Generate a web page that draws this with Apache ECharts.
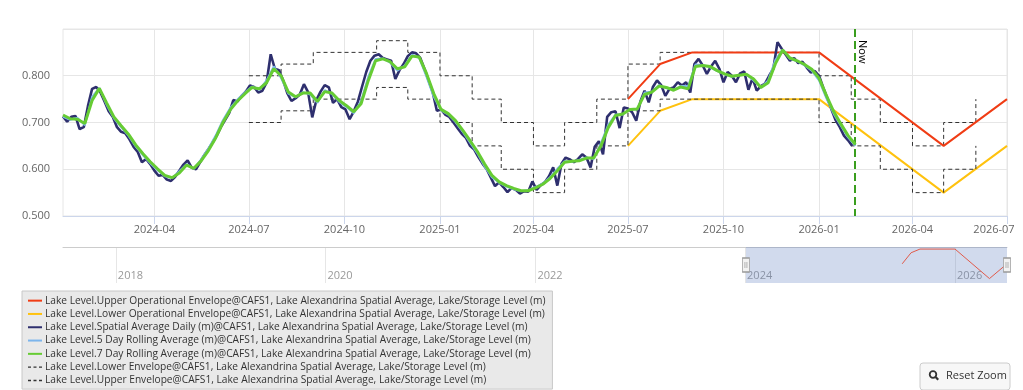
<!DOCTYPE html>
<html><head><meta charset="utf-8">
<script src="https://cdn.jsdelivr.net/npm/echarts@6/dist/echarts.min.js"></script>
<style>html,body{margin:0;padding:0;background:#fff;}#chart{width:1023px;height:390px;}</style>
</head><body><div id="chart"></div>
<script>
// ---------------- DATA ----------------
const viewStart = '2024-01-04';
const viewEnd = '2026-07-01';
const navStart = '2017-07-01';
const navEnd = '2026-07-01';
const nowDate = '2026-02-04';

const quarterTicks = ['2024-04-01','2024-07-01','2024-10-01','2025-01-01','2025-04-01','2025-07-01','2025-10-01','2026-01-01','2026-04-01','2026-07-01'];
const quarterLabels = ['2024-04','2024-07','2024-10','2025-01','2025-04','2025-07','2025-10','2026-01','2026-04','2026-07'];
const navTicks = ['2018-01-01','2020-01-01','2022-01-01','2024-01-01','2026-01-01'];
const navLabels = ['2018','2020','2022','2024','2026'];
const yTicks = [0.5, 0.6, 0.7, 0.8, 0.9];

const seriesNames = [
  'Lake Level.Upper Operational Envelope@CAFS1, Lake Alexandrina Spatial Average, Lake/Storage Level (m)',
  'Lake Level.Lower Operational Envelope@CAFS1, Lake Alexandrina Spatial Average, Lake/Storage Level (m)',
  'Lake Level.Spatial Average Daily (m)@CAFS1, Lake Alexandrina Spatial Average, Lake/Storage Level (m)',
  'Lake Level.5 Day Rolling Average (m)@CAFS1, Lake Alexandrina Spatial Average, Lake/Storage Level (m)',
  'Lake Level.7 Day Rolling Average (m)@CAFS1, Lake Alexandrina Spatial Average, Lake/Storage Level (m)',
  'Lake Level.Lower Envelope@CAFS1, Lake Alexandrina Spatial Average, Lake/Storage Level (m)',
  'Lake Level.Upper Envelope@CAFS1, Lake Alexandrina Spatial Average, Lake/Storage Level (m)'
];

const operationalDates = ['2025-07-01','2025-08-01','2025-09-01','2026-01-01','2026-05-01','2026-07-01'];
const upperOperational = [0.75, 0.825, 0.85, 0.85, 0.65, 0.75];
const lowerOperational = [0.65, 0.725, 0.75, 0.75, 0.55, 0.65];

const envelopeMonths = ['2024-07-01','2024-08-01','2024-09-01','2024-10-01','2024-11-01','2024-12-01',
  '2025-01-01','2025-02-01','2025-03-01','2025-04-01','2025-05-01','2025-06-01',
  '2025-07-01','2025-08-01','2025-09-01','2025-10-01','2025-11-01','2025-12-01',
  '2026-01-01','2026-02-01','2026-03-01','2026-04-01','2026-05-01','2026-06-01'];
const upperEnvelope = [0.80,0.825,0.85,0.85,0.875,0.85, 0.80,0.75,0.70,0.65,0.70,0.75, 0.825,0.85,0.85,0.85,0.85,0.85, 0.80,0.75,0.70,0.65,0.70,0.75];
const lowerEnvelope = [0.70,0.725,0.75,0.75,0.775,0.75, 0.70,0.65,0.60,0.55,0.60,0.65, 0.725,0.75,0.75,0.75,0.75,0.75, 0.70,0.65,0.60,0.55,0.60,0.65];

// daily readings, one every 4 days from dailyStart
const dailyStart = '2024-01-04';
const dailyStepDays = 4;
const dailyLevel = [
  0.713,0.702,0.712,0.714,0.686,0.690,0.735,0.772,0.776,0.765,
  0.745,0.724,0.712,0.690,0.680,0.677,0.664,0.648,0.637,0.615,
  0.622,0.611,0.597,0.586,0.588,0.578,0.575,0.584,0.597,0.610,
  0.619,0.603,0.600,0.615,0.630,0.643,0.657,0.672,0.690,0.705,
  0.720,0.748,0.745,0.757,0.766,0.779,0.776,0.764,0.768,0.785,
  0.846,0.815,0.812,0.790,0.763,0.746,0.752,0.760,0.782,0.765,
  0.711,0.748,0.766,0.780,0.775,0.742,0.750,0.733,0.728,0.707,
  0.724,0.745,0.777,0.808,0.832,0.843,0.846,0.838,0.835,0.832,
  0.793,0.812,0.825,0.842,0.850,0.848,0.838,0.815,0.790,0.765,
  0.725,0.728,0.717,0.712,0.700,0.688,0.676,0.667,0.650,0.642,
  0.626,0.612,0.600,0.582,0.564,0.572,0.562,0.551,0.560,0.556,
  0.548,0.553,0.552,0.574,0.556,0.566,0.572,0.585,0.604,0.565,
  0.612,0.625,0.621,0.615,0.622,0.632,0.625,0.604,0.648,0.660,
  0.632,0.712,0.722,0.724,0.688,0.732,0.730,0.722,0.704,0.745,
  0.768,0.743,0.776,0.790,0.780,0.757,0.772,0.775,0.786,0.779,
  0.786,0.764,0.825,0.836,0.822,0.804,0.820,0.832,0.815,0.786,
  0.808,0.800,0.786,0.805,0.809,0.770,0.795,0.768,0.778,0.783,
  0.800,0.815,0.872,0.858,0.845,0.832,0.838,0.827,0.830,0.818,
  0.807,0.810,0.800,0.775,0.752,0.728,0.705,0.690,0.672,0.662,
  0.650
];

// rolling averages, one reading every 7 days from rollingStart
const rollingStart = '2024-01-04';
const rollingStepDays = 7;
const rolling5Day = [
  0.712,0.706,0.710,0.694,0.755,0.774,0.738,0.709,0.690,0.672,
  0.649,0.630,0.613,0.598,0.585,0.581,0.596,0.611,0.601,0.621,
  0.644,0.672,0.705,0.731,0.749,0.764,0.777,0.770,0.790,0.820,
  0.795,0.762,0.754,0.765,0.760,0.742,0.769,0.761,0.744,0.733,
  0.720,0.746,0.798,0.836,0.837,0.828,0.811,0.822,0.845,0.838,
  0.798,0.755,0.726,0.717,0.701,0.680,0.657,0.634,0.606,0.583,
  0.571,0.563,0.557,0.553,0.555,0.562,0.570,0.583,0.601,0.617,
  0.616,0.620,0.625,0.622,0.656,0.695,0.717,0.717,0.729,0.728,
  0.764,0.766,0.780,0.773,0.770,0.778,0.778,0.824,0.823,0.818,
  0.810,0.803,0.798,0.801,0.802,0.790,0.775,0.790,0.834,0.856,
  0.836,0.831,0.822,0.811,0.790,0.752,0.719,0.693,0.668,0.650
];
const rolling7Day = [
  0.716,0.708,0.707,0.698,0.747,0.773,0.742,0.712,0.693,0.675,
  0.652,0.633,0.616,0.601,0.587,0.582,0.592,0.609,0.602,0.618,
  0.640,0.667,0.700,0.727,0.746,0.761,0.775,0.772,0.785,0.815,
  0.800,0.765,0.755,0.763,0.763,0.745,0.766,0.763,0.747,0.736,
  0.723,0.740,0.790,0.832,0.836,0.830,0.815,0.819,0.842,0.840,
  0.805,0.762,0.728,0.719,0.704,0.683,0.661,0.638,0.611,0.587,
  0.573,0.565,0.559,0.554,0.554,0.560,0.568,0.580,0.597,0.615,
  0.617,0.618,0.624,0.624,0.650,0.689,0.715,0.718,0.728,0.729,
  0.760,0.765,0.778,0.775,0.769,0.776,0.772,0.820,0.822,0.820,
  0.811,0.804,0.799,0.801,0.803,0.793,0.775,0.785,0.826,0.855,
  0.838,0.832,0.824,0.814,0.795,0.758,0.724,0.697,0.672,0.653
];

// ---------------- BUILD ----------------
const FONT = '"Open Sans", "Liberation Sans", sans-serif';
function ts(s){ const p = s.split('-').map(Number); return new Date(p[0], p[1]-1, p[2]).getTime(); }
function stepSeries(start, step, vals){ const p = start.split('-').map(Number); return vals.map((v,i)=>[new Date(p[0], p[1]-1, p[2] + i*step).getTime(), v]); }
function pair(dates, vals){ return dates.map((d,i)=>[ts(d), vals[i]]); }

const quarterTs = quarterTicks.map(ts);
const quarterMap = {}; quarterTs.forEach((t,i)=>quarterMap[t]=quarterLabels[i]);
const lastQuarterTs = quarterTs[quarterTs.length-1];
const navTs = navTicks.map(ts);
const navMap = {}; navTs.forEach((t,i)=>navMap[t]=navLabels[i]);
const yMin = yTicks[0], yMax = yTicks[yTicks.length-1];
const nowTs = ts(nowDate);

const upperOpData = pair(operationalDates, upperOperational);
const chart = echarts.init(document.getElementById('chart'), null, {renderer:'canvas'});

const base = {type:'line', symbol:'none', showSymbol:false, animation:false, xAxisIndex:0, yAxisIndex:0};
const SOLID_ICON = 'path://M0,0H14V2H0Z';
const DASH_ICON = 'path://M0,0H3V1.4H0Z M5.5,0H8.5V1.4H5.5Z M11,0H14V1.4H11Z';
const legendIcons = [SOLID_ICON, SOLID_ICON, SOLID_ICON, SOLID_ICON, SOLID_ICON, DASH_ICON, DASH_ICON];

chart.setOption({
  animation:false,
  textStyle:{fontFamily:FONT},
  grid:[
    {left:63, top:29, width:944, height:187, show:true, borderColor:'#e6e6e6', borderWidth:1, containLabel:false, outerBoundsMode:'none'},
    {left:63, top:247, width:944, height:36, containLabel:false, outerBoundsMode:'none'}
  ],
  xAxis:[
    {type:'value', gridIndex:0, min:ts(viewStart), max:ts(viewEnd), scale:true,
     axisLine:{lineStyle:{color:'#ccd6eb'}},
     axisTick:{show:true, length:8, lineStyle:{color:'#ccd6eb'}, customValues:quarterTs},
     axisLabel:{customValues:quarterTs,
       formatter:v=> v === lastQuarterTs ? '{edge|' + quarterMap[v] + '}' : (quarterMap[v]||''),
       rich:{edge:{color:'#666', fontSize:11, fontFamily:FONT, padding:[0,26,0,0]}},
       color:'#666', fontSize:11, fontFamily:FONT, margin:8, hideOverlap:false},
     splitLine:{show:true, lineStyle:{color:'#e6e6e6'}}},
    {type:'value', gridIndex:1, min:ts(navStart), max:ts(navEnd), position:'top', scale:true,
     axisLine:{show:true, lineStyle:{color:'#cccccc'}},
     axisTick:{show:false, customValues:navTs},
     axisLabel:{inside:true, customValues:navTs, formatter:v=>navMap[v]||'', color:'#999', fontSize:11, fontFamily:FONT, align:'left', margin:23, padding:[0,0,0,2], hideOverlap:false},
     splitLine:{show:true, lineStyle:{color:'#e6e6e6'}}}
  ],
  yAxis:[
    {type:'value', gridIndex:0, min:yMin, max:yMax, interval:0.1,
     axisLine:{show:false}, axisTick:{show:false},
     axisLabel:{formatter:v=>v.toFixed(3), color:'#666', fontSize:11, fontFamily:FONT, margin:13, showMaxLabel:false},
     splitLine:{lineStyle:{color:'#e6e6e6'}}},
    {type:'value', gridIndex:1, min:0.62, max:0.864, show:false}
  ],
  legend:{
    orient:'vertical', left:22, top:291, height:98,
    data:seriesNames.map((n,i)=>({name:n, icon:legendIcons[i]})),
    backgroundColor:'#e9e9e9', borderColor:'#c8c8c8', borderWidth:1, borderRadius:0,
    padding:[3,7,2,6], itemGap:0, itemWidth:14, itemHeight:2,
    textStyle:{fontSize:10.2, color:'#333', fontFamily:FONT, lineHeight:13.3, padding:[0,0,0,-2]},
    selectedMode:false
  },
  series:[
    Object.assign({}, base, {name:seriesNames[5], data:pair(envelopeMonths, lowerEnvelope), step:'end', color:'#333', lineStyle:{width:1, type:[4,3], color:'#333'}, z:3}),
    Object.assign({}, base, {name:seriesNames[6], data:pair(envelopeMonths, upperEnvelope), step:'end', color:'#333', lineStyle:{width:1, type:[4,3], color:'#333'}, z:3}),
    Object.assign({}, base, {name:seriesNames[0], data:upperOpData, color:'#f03c14', lineStyle:{width:2}, z:4}),
    Object.assign({}, base, {name:seriesNames[1], data:pair(operationalDates, lowerOperational), color:'#ffc20e', lineStyle:{width:2}, z:2}),
    Object.assign({}, base, {name:seriesNames[2], data:stepSeries(dailyStart, dailyStepDays, dailyLevel), color:'#2e2f6e', lineStyle:{width:2.6}, z:5,
      markLine:{silent:true, symbol:'none', animation:false,
        lineStyle:{color:'#3a9e1e', type:[8,4], width:2},
        label:{show:true, formatter:'Now', position:'insideStartTop', color:'#000', fontSize:11, fontFamily:FONT, distance:[11,2]},
        data:[[{coord:[nowTs, yMax]}, {coord:[nowTs, yMin]}]]}}),
    Object.assign({}, base, {name:seriesNames[3], data:stepSeries(rollingStart, rollingStepDays, rolling5Day), color:'#7cb5ec', lineStyle:{width:2}, z:6}),
    Object.assign({}, base, {name:seriesNames[4], data:stepSeries(rollingStart, rollingStepDays, rolling7Day), color:'#66cc33', lineStyle:{width:3}, z:7}),
    {type:'line', symbol:'none', showSymbol:false, animation:false, xAxisIndex:1, yAxisIndex:1, data:upperOpData, color:'#e05a4a', lineStyle:{width:1}, z:3, silent:true,
      markArea:{silent:true, itemStyle:{color:'rgba(102,133,194,0.3)'}, data:[[{xAxis:ts(viewStart)}, {xAxis:ts(viewEnd)}]]},
      markPoint:{silent:true, symbol:'path://M0,0H7V14H0Z M2.5,4V10 M4.5,4V10', symbolSize:[7,14], label:{show:false},
        itemStyle:{color:'#f2f2f2', borderColor:'#999', borderWidth:1},
        data:[{coord:[ts(viewStart), 0.742]}, {coord:[ts(viewEnd), 0.742]}]}}
  ],
  graphic:[{type:'group', x:920, y:363, children:[
    {type:'rect', shape:{x:0, y:0, width:90, height:27, r:3}, style:{fill:'#f7f7f7', stroke:'#cccccc', lineWidth:1}},
    {type:'circle', shape:{cx:13, cy:11.5, r:3.3}, style:{fill:'none', stroke:'#333', lineWidth:1.8}},
    {type:'line', shape:{x1:15.6, y1:14.1, x2:18.2, y2:16.8}, style:{stroke:'#333', lineWidth:2.2}},
    {type:'text', x:26, y:13, style:{text:'Reset Zoom', verticalAlign:'middle', fill:'#333', font:'11px ' + FONT}}
  ]}]
});
</script></body></html>
